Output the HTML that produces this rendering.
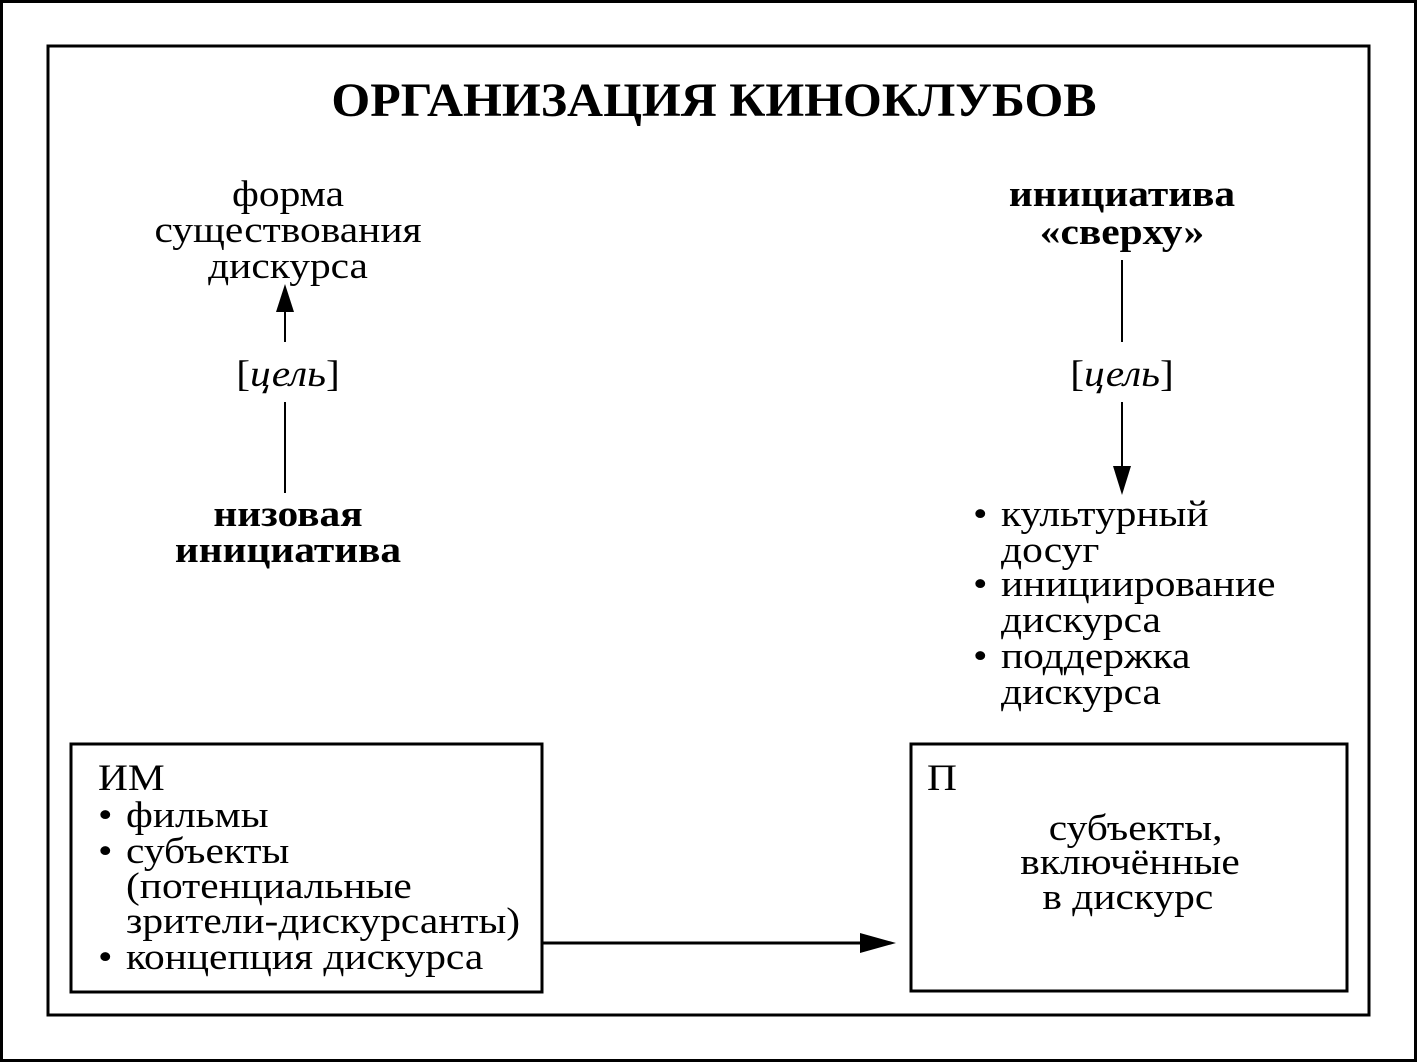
<!DOCTYPE html>
<html><head><meta charset="utf-8"><style>
html,body{margin:0;padding:0;background:#fff;}
svg{display:block;}
text{font-family:"Liberation Serif",serif;font-size:37px;fill:#000;}
.b{font-weight:bold;}
.m{text-anchor:middle;}
</style></head><body>
<svg width="1417" height="1062" viewBox="0 0 1417 1062">
<rect x="1.5" y="1.5" width="1414" height="1059" fill="none" stroke="#000" stroke-width="3"/>
<rect x="48" y="46" width="1321" height="969" fill="none" stroke="#000" stroke-width="3"/>
<text transform="translate(714,116) scale(1.04,1)" class="b m" style="font-size:48px">ОРГАНИЗАЦИЯ КИНОКЛУБОВ</text>

<g transform="translate(288,0) scale(1.12,1)">
<text x="0" y="206" class="m">форма</text>
<text x="0" y="242" class="m">существования</text>
<text x="0" y="278" class="m">дискурса</text>
<text x="0" y="386" class="m">[<tspan font-style="italic">цель</tspan>]</text>
<text x="0" y="526" class="m b">низовая</text>
<text x="0" y="562" class="m b">инициатива</text>
</g>
<line x1="285" y1="342" x2="285" y2="308" stroke="#000" stroke-width="2"/>
<polygon points="285,284 276,312 294,312" fill="#000"/>
<line x1="285" y1="402" x2="285" y2="493" stroke="#000" stroke-width="2"/>

<g transform="translate(1122,0) scale(1.12,1)">
<text x="0" y="206" class="m b">инициатива</text>
<text x="0" y="244" class="m b">«сверху»</text>
<text x="0" y="386" class="m">[<tspan font-style="italic">цель</tspan>]</text>
</g>
<line x1="1122" y1="260" x2="1122" y2="342" stroke="#000" stroke-width="2"/>
<line x1="1122" y1="402" x2="1122" y2="470" stroke="#000" stroke-width="2"/>
<polygon points="1122,495 1113,466 1131,466" fill="#000"/>

<g transform="translate(973,0) scale(1.12,1)">
<text x="0" y="526">•</text><text x="25" y="526">культурный</text>
<text x="25" y="562">досуг</text>
<text x="0" y="596">•</text><text x="25" y="596">инициирование</text>
<text x="25" y="632">дискурса</text>
<text x="0" y="668">•</text><text x="25" y="668">поддержка</text>
<text x="25" y="704">дискурса</text>
</g>

<rect x="71" y="744" width="471" height="248" fill="none" stroke="#000" stroke-width="3"/>
<g transform="translate(98,0) scale(1.12,1)">
<text x="0" y="790">ИМ</text>
<text x="0" y="827">•</text><text x="25" y="827">фильмы</text>
<text x="0" y="863">•</text><text x="25" y="863">субъекты</text>
<text x="25" y="898">(потенциальные</text>
<text x="25" y="933">зрители-дискурсанты)</text>
<text x="0" y="969">•</text><text x="25" y="969">концепция дискурса</text>
</g>

<rect x="911" y="744" width="436" height="247" fill="none" stroke="#000" stroke-width="3"/>
<g transform="translate(927,0) scale(1.12,1)">
<text x="0" y="790">П</text>
</g>
<g transform="translate(1130,0) scale(1.12,1)">
<text x="5" y="840" class="m">субъекты,</text>
<text x="0" y="874" class="m">включённые</text>
<text x="-2" y="909" class="m">в дискурс</text>
</g>

<line x1="543" y1="943" x2="866" y2="943" stroke="#000" stroke-width="3"/>
<polygon points="896,943 860,933 860,953" fill="#000"/>
</svg>
</body></html>
